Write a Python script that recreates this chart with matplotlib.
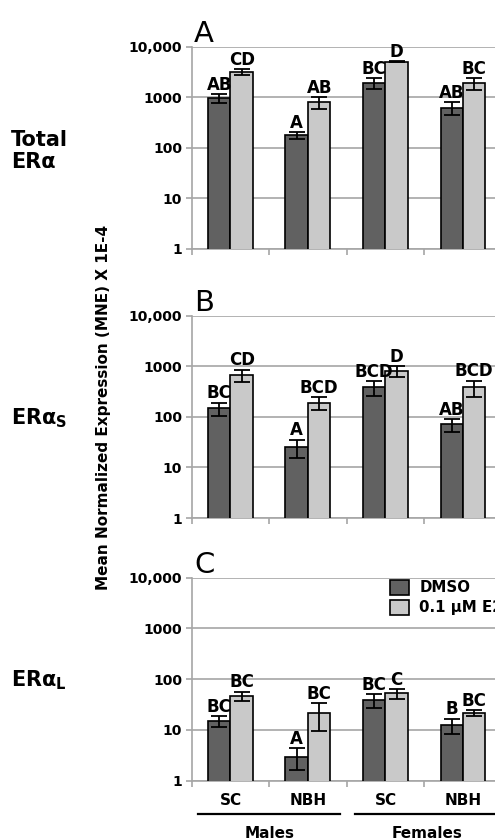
import matplotlib.pyplot as plt
from matplotlib.ticker import NullLocator
from matplotlib.transforms import blended_transform_factory

plt.rcParams['font.family'] = ['DejaVu Sans']
plt.rcParams['mathtext.fontset'] = 'dejavusans'

# -------- Data --------
regions = ["SC", "NBH", "SC", "NBH"]
sexes = ["Males", "Females"]
treatments = ["DMSO", "0.1 \u00b5M E2"]

total_dmso = [960, 181, 1960, 630]
total_dmso_err = [190, 28, 480, 190]
total_e2 = [3240, 804, 5110, 1910]
total_e2_err = [430, 200, 50, 500]
total_dmso_letters = ["AB", "A", "BC", "AB"]
total_e2_letters = ["CD", "AB", "D", "BC"]

short_dmso = [147, 25.6, 382, 71]
short_dmso_err = [45, 10, 120, 21]
short_e2 = [670, 190, 815, 382]
short_e2_err = [190, 55, 210, 140]
short_dmso_letters = ["BC", "A", "BCD", "AB"]
short_e2_letters = ["CD", "BCD", "D", "BCD"]

long_dmso = [15.0, 2.97, 38.9, 12.5]
long_dmso_err = [3.8, 1.35, 12, 4.2]
long_e2 = [47.3, 21.9, 52.7, 21.9]
long_e2_err = [9.7, 12.4, 12, 3]
long_dmso_letters = ["BC", "A", "BC", "B"]
long_e2_letters = ["BC", "BC", "C", "BC"]

yticks = [1, 10, 100, 1000, 10000]
ytick_labels = ["1", "10", "100", "1000", "10,000"]

panels = [
    ("A", total_dmso, total_dmso_err, total_e2, total_e2_err,
     total_dmso_letters, total_e2_letters),
    ("B", short_dmso, short_dmso_err, short_e2, short_e2_err,
     short_dmso_letters, short_e2_letters),
    ("C", long_dmso, long_dmso_err, long_e2, long_e2_err,
     long_dmso_letters, long_e2_letters),
]

# -------- Style --------
dark = "#616161"
light = "#c9c9c9"
grey = "#a6a6a6"
bar_w = 0.29

fig = plt.figure(figsize=(4.95, 8.4), dpi=100)
axes_rects = [
    [0.3873, 0.7036, 0.6263, 0.2405],
    [0.3873, 0.3833, 0.6263, 0.2408],
    [0.3873, 0.0706, 0.6263, 0.2417],
]

x = list(range(len(regions)))

for rect, (letter, d, de, e, ee, dl, el) in zip(axes_rects, panels):
    ax = fig.add_axes(rect)
    xd = [i - bar_w / 2 for i in x]
    xe = [i + bar_w / 2 for i in x]
    ebar = dict(ecolor="black", elinewidth=1.3, capsize=6, capthick=1.3)
    ax.bar(xd, d, bar_w, yerr=de, color=dark, edgecolor="black",
           linewidth=1.2, error_kw=ebar, label=treatments[0], zorder=3)
    ax.bar(xe, e, bar_w, yerr=ee, color=light, edgecolor="black",
           linewidth=1.2, error_kw=ebar, label=treatments[1], zorder=3)

    for xs, vals, errs, labs in ((xd, d, de, dl), (xe, e, ee, el)):
        for xi, v, er, lab in zip(xs, vals, errs, labs):
            ax.annotate(lab, (xi, v + er), xytext=(0, 3),
                        textcoords="offset points", ha="center",
                        va="baseline", fontsize=12, fontweight="bold",
                        zorder=5)

    ax.set_yscale("log")
    ax.set_ylim(1, 10000)
    ax.set_yticks(yticks)
    ax.set_yticklabels(ytick_labels, fontweight="bold", fontsize=10)
    ax.yaxis.set_minor_locator(NullLocator())
    ax.set_xlim(-0.5, 3.5)
    ax.set_xticks([-0.5, 0.5, 1.5, 2.5, 3.5])
    ax.set_xticklabels([])
    ax.tick_params(axis="both", which="major", length=4, width=1.2,
                   color=grey, pad=3)
    ax.yaxis.grid(True, color=grey, linewidth=1.2)
    ax.set_axisbelow(True)
    for side in ("top", "right"):
        ax.spines[side].set_visible(False)
    for side in ("left", "bottom"):
        ax.spines[side].set_color(grey)
        ax.spines[side].set_linewidth(1.2)

    ax.text(0.007, 1.025, letter, transform=ax.transAxes, fontsize=21,
            va="baseline", ha="left")

    if letter == "C":
        ax.set_xticks(x, regions, minor=True)
        ax.tick_params(axis="x", which="minor", length=0, pad=9,
                       labelsize=11)
        for t in ax.get_xticklabels(minor=True):
            t.set_fontweight("bold")
        trans = blended_transform_factory(ax.transData, ax.transAxes)
        spans = [(-0.42, 1.41), (1.61, 3.45)]
        for sex, (a, b) in zip(sexes, spans):
            ax.plot([a, b], [-0.1655, -0.1655], transform=trans,
                    clip_on=False, color="black", linewidth=1.6)
            ax.text((a + b) / 2 + 0.01, -0.258, sex, transform=trans,
                    ha="center", va="center", fontsize=11,
                    fontweight="bold")
        ax.legend(loc="upper left", bbox_to_anchor=(0.64, 0.99),
                  frameon=False, borderaxespad=0, borderpad=0,
                  handlelength=1.27, handleheight=1.17,
                  handletextpad=0.67, labelspacing=0.3,
                  prop=dict(weight="bold", size=10.8))

# Row labels
fig.text(0.022, 1 - 146 / 840, "Total", fontsize=15, fontweight="bold",
         va="baseline")
fig.text(0.022, 1 - 168 / 840, "ER\u03b1", fontsize=15, fontweight="bold",
         va="baseline")
fig.text(0.022, 1 - 424 / 840, r"ER$\mathbf{\alpha}_\mathbf{S}$",
         fontsize=15, fontweight="bold", va="baseline")
fig.text(0.022, 1 - 686 / 840, r"ER$\mathbf{\alpha}_\mathbf{L}$",
         fontsize=15, fontweight="bold", va="baseline")

fig.text(0.210, 1 - 407.5 / 840, "Mean Normalized Expression (MNE) X 1E-4",
         rotation=90, ha="center", va="center", fontsize=11,
         fontweight="bold")

fig.savefig("out.png", dpi=100)
